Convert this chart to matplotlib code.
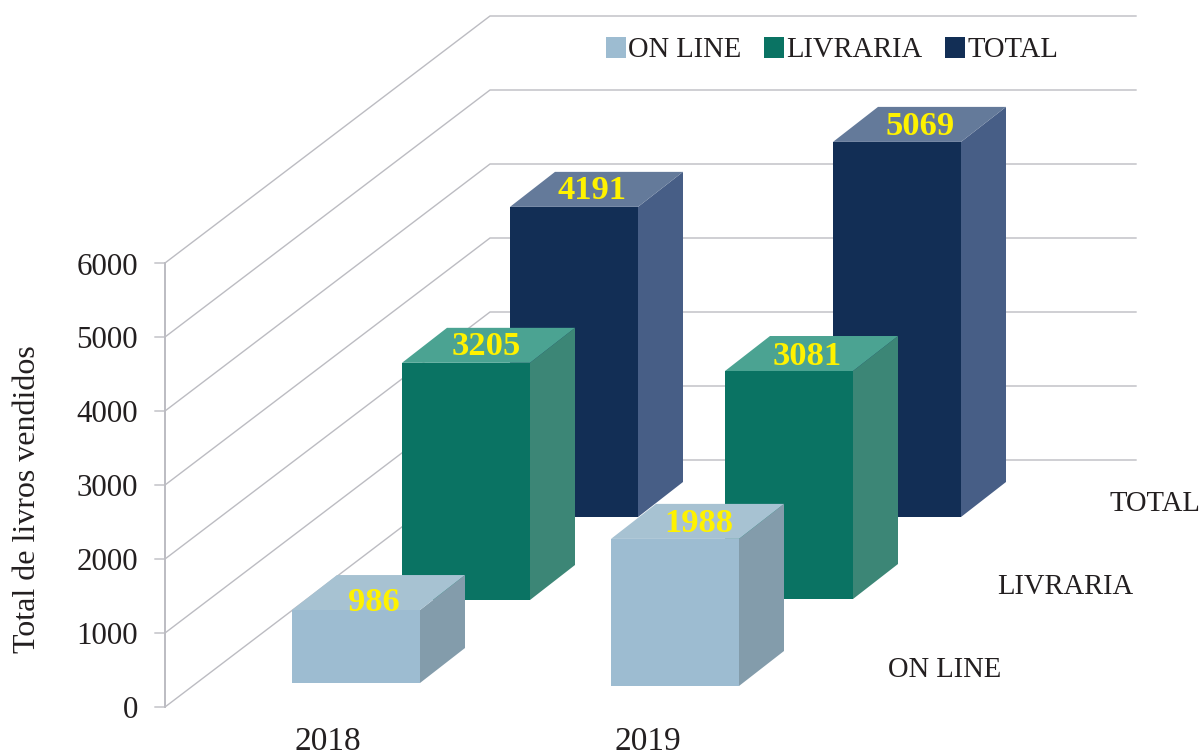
import matplotlib
matplotlib.use("Agg")
import matplotlib.pyplot as plt
from matplotlib.patches import Polygon, Patch

plt.rcParams['font.family'] = ['Liberation Serif', 'DejaVu Serif']

years = ['2018', '2019']
series = ['ON LINE', 'LIVRARIA', 'TOTAL']
online = [986, 1988]
livraria = [3205, 3081]
total = [4191, 5069]
y_ticks = [0, 1000, 2000, 3000, 4000, 5000, 6000]
y_title = 'Total de livros vendidos'

W, H = 1203, 756
PX = 0.074          # pixels per book
Y0 = 707            # pixel row of value 0 on the axis
fig = plt.figure(figsize=(W / 100, H / 100), dpi=100)
ax = fig.add_axes([0, 0, 1, 1])
ax.set_xlim(0, W)
ax.set_ylim(-(H - Y0) / PX, Y0 / PX)   # y axis is in books
ax.axis('off')

def row(p):   # pixel row -> data y offset
    return (Y0 - p) / PX

# floor/back wall grid
gx0, gx1, gx2 = 165, 490, 1136
depth_y = 247 / PX
grid = '#bcbcc2'
for v in y_ticks:
    ax.plot([155, gx0, gx1, gx2], [v, v, v + depth_y, v + depth_y],
            color=grid, lw=1.0, zorder=1, solid_joinstyle='miter')
    ax.text(138, v - 4 / PX, f'{v}', ha='right', va='center', fontsize=22.3, color='#231f20')
ax.plot([gx0, gx0], [0, max(y_ticks)], color=grid, lw=1.4, zorder=1)

ax.text(28, row(499), y_title, rotation=90, ha='center', va='center',
        fontsize=23, color='#231f20')

# style per series: front, side, top, x-left per year, base row per year, label shift
styles = {
    'TOTAL':    dict(vals=total,    front='#122e55', side='#475e86', top='#647a9a',
                     x=[510, 833], base=[517, 517], lx=[-2, 3], ly=[0, 1]),
    'LIVRARIA': dict(vals=livraria, front='#0a7363', side='#3c8676', top='#4ba392',
                     x=[402, 725], base=[600, 599], lx=[0, -2], ly=[0, 2]),
    'ON LINE':  dict(vals=online,   front='#9dbcd1', side='#839cab', top='#a7c2d2',
                     x=[292, 611], base=[683, 686], lx=[-2, 4], ly=[9, 1]),
}
BW, DX, DY = 128, 45, 35 / PX

z = 2
for name in ['TOTAL', 'LIVRARIA', 'ON LINE']:
    s = styles[name]
    for v, xl, b, lx, ly in zip(s['vals'], s['x'], s['base'], s['lx'], s['ly']):
        b0 = row(b)
        t0 = b0 + v
        xr = xl + BW
        ax.add_patch(Polygon([(xr, b0), (xr + DX, b0 + DY), (xr + DX, t0 + DY), (xr, t0)],
                             fc=s['side'], ec='none', zorder=z))
        ax.add_patch(Polygon([(xl, t0), (xl + DX, t0 + DY), (xr + DX, t0 + DY), (xr, t0)],
                             fc=s['top'], ec='none', zorder=z))
        ax.add_patch(Polygon([(xl, b0), (xr, b0), (xr, t0), (xl, t0)],
                             fc=s['front'], ec='none', zorder=z))
        ax.text(xl + BW / 2 + 20 + lx, t0 + DY / 2 - (1 + ly) / PX, f'{v}', ha='center', va='center',
                fontsize=24.8, fontweight='bold', color='#fff200', zorder=z + 0.5)
    z += 1

# category labels
for lab, xc in zip(years, [328, 648]):
    ax.text(xc, row(750), lab, ha='center', va='baseline', fontsize=24, color='#231f20')
# depth labels
for lab, xc, r in zip(series, [945, 1065, 1155], [670, 587, 504]):
    ax.text(xc, row(r), lab, ha='center', va='center', fontsize=20.6, color='#231f20')

# legend
handles = [Patch(fc=styles[n]['front'], ec='none', label=n) for n in series]
leg = ax.legend(handles=handles, ncols=3, frameon=False, fontsize=20.6,
                loc='center left', bbox_to_anchor=(606 / W, 1 - 50 / H),
                handlelength=0.7, handleheight=0.78, handletextpad=0.07,
                columnspacing=0.8, borderpad=0, borderaxespad=0, labelcolor='#231f20')

fig.savefig('out.png', dpi=100)
